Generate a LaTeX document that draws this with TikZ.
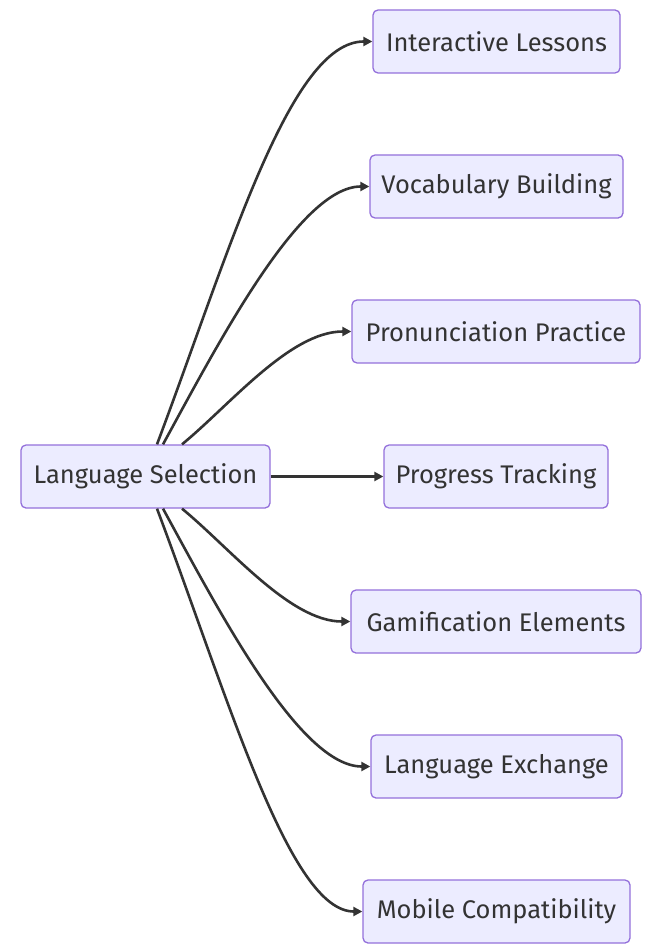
\documentclass[tikz,border=0pt]{standalone}
\usepackage{fontspec}
\setmainfont{Fira Sans}
\usetikzlibrary{arrows.meta,calc}
\definecolor{nodefill}{HTML}{ECECFF}
\definecolor{nodeline}{HTML}{9370DB}
\definecolor{ink}{HTML}{333333}
\tikzset{
  box/.style={draw=nodeline, fill=nodefill, line width=1.3pt, rounded corners=5pt,
    minimum height=63pt, inner sep=0pt, text=ink, font=\fontsize{25.5}{30}\selectfont},
  arr/.style={draw=ink, line width=2.6pt, -{Triangle[length=9pt,width=9pt]}}
}
\begin{document}
\begin{tikzpicture}[x=1pt,y=-1pt]
\useasboundingbox (0,0) rectangle (647,952);
\node[box, minimum width=249pt] (ls) at (145.5,476.5) {Language Selection};
\node[box, minimum width=247pt] (il) at (496.5,41.5) {Interactive Lessons};
\node[box, minimum width=253pt] (vb) at (496.5,186.5) {Vocabulary Building};
\node[box, minimum width=288pt] (pp) at (496,331.5) {Pronunciation Practice};
\node[box, minimum width=224pt] (pt) at (496,476.5) {Progress Tracking};
\node[box, minimum width=290pt] (ge) at (496,621.5) {Gamification Elements};
\node[box, minimum width=251pt] (le) at (496.5,766.5) {Language Exchange};
\node[box, minimum width=267pt] (mc) at (496.5,911.5) {Mobile Compatibility};
\draw[arr] ([xshift=11.5pt]ls.north) .. controls (230,250) and (290,41.5) .. (il.west);
\draw[arr] ([xshift=17.5pt]ls.north) .. controls (220,340) and (300,186.5) .. (vb.west);
\draw[arr] ([xshift=36.5pt]ls.north) .. controls (230,405) and (290,331.5) .. (pp.west);
\draw[arr] (ls.east) -- (pt.west);
\draw[arr] ([xshift=36.5pt]ls.south) .. controls (230,548) and (290,621.5) .. (ge.west);
\draw[arr] ([xshift=17.5pt]ls.south) .. controls (220,613) and (300,766.5) .. (le.west);
\draw[arr] ([xshift=11.5pt]ls.south) .. controls (230,703) and (290,911.5) .. (mc.west);
\end{tikzpicture}
\end{document}
